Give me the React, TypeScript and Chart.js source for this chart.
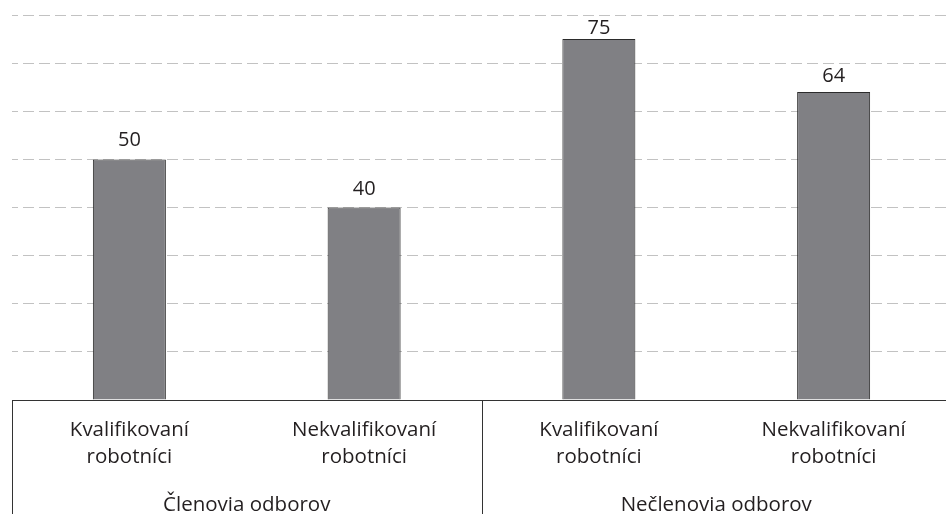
import React, { useEffect, useRef } from "react";
import { Chart, registerables } from "chart.js";

Chart.register(...registerables);

const categories: string[][] = [
  ["Kvalifikovaní", "robotníci"],
  ["Nekvalifikovaní", "robotníci"],
  ["Kvalifikovaní", "robotníci"],
  ["Nekvalifikovaní", "robotníci"],
];
const groups: string[] = ["Členovia odborov", "Nečlenovia odborov"];
const groupSizes: number[] = [2, 2];
const values: number[] = [50, 40, 75, 64];
const yTicks: number[] = [0, 10, 20, 30, 40, 50, 60, 70, 80];

const FONT = '"Open Sans", sans-serif';
const TEXT = "#231f20";
const W = 960;
const H = 530;

const labelsPlugin = {
  id: "labelsPlugin",
  afterDraw(chart: any) {
    const { ctx } = chart;
    const xs = chart.scales.x;
    const ys = chart.scales.y;
    const bottom = chart.chartArea.bottom;
    ctx.save();
    // value labels
    ctx.fillStyle = TEXT;
    ctx.font = `20px ${FONT}`;
    ctx.textAlign = "center";
    ctx.textBaseline = "alphabetic";
    const meta = chart.getDatasetMeta(0);
    const gridYs = yTicks.map((t) => ys.getPixelForValue(t));
    meta.data.forEach((bar: any, i: number) => {
      let base = bar.y - 13;
      const top = base - 14;
      const hit = gridYs.find((g) => g >= top - 6 && g <= base);
      if (hit !== undefined) base = hit + 5 + 14;
      ctx.fillText(String(values[i]), bar.x, base);
    });
    // category labels
    ctx.font = `20.5px ${FONT}`;
    categories.forEach((lines, i) => {
      const x = xs.getPixelForValue(i);
      lines.forEach((ln, j) => ctx.fillText(ln, x, bottom + 36 + j * 26.5));
    });
    // group separators & labels
    ctx.strokeStyle = "#333333";
    ctx.lineWidth = 1;
    let start = 0;
    const bounds: number[] = [xs.left];
    groups.forEach((g, gi) => {
      const end = start + groupSizes[gi];
      const left = gi === 0 ? xs.left : (xs.getPixelForValue(start - 1) + xs.getPixelForValue(start)) / 2;
      const right =
        end >= categories.length ? xs.right : (xs.getPixelForValue(end - 1) + xs.getPixelForValue(end)) / 2;
      if (gi > 0) bounds.push(left);
      ctx.fillText(g, (left + right) / 2, bottom + 111);
      start = end;
    });
    bounds.push(xs.right);
    bounds.forEach((bx) => {
      const px = Math.round(bx) + 0.5;
      ctx.beginPath();
      ctx.moveTo(px, bottom);
      ctx.lineTo(px, chart.height);
      ctx.stroke();
    });
    ctx.restore();
  },
};

export default function App() {
  const ref = useRef<HTMLCanvasElement>(null);
  useEffect(() => {
    if (!ref.current) return;
    const chart = new Chart(ref.current, {
      type: "bar",
      data: {
        labels: categories.map((c) => c.join(" ")),
        datasets: [
          {
            data: values,
            backgroundColor: "#808084",
            borderColor: "#2b2b2b",
            borderWidth: 1,
            barPercentage: 0.311,
            categoryPercentage: 1,
          },
        ],
      },
      options: {
        animation: false,
        responsive: false,
        maintainAspectRatio: false,
        devicePixelRatio: 1,
        layout: { padding: { left: 12, right: 9, top: 15, bottom: 0 } },
        plugins: { legend: { display: false }, tooltip: { enabled: false } },
        scales: {
          x: {
            type: "category",
            grid: { display: false },
            ticks: { display: false },
            border: { display: true, color: "#333333", width: 1 },
            afterFit: (s: any) => {
              s.height = 130;
            },
          },
          y: {
            min: 0,
            max: 80,
            afterBuildTicks: (s: any) => {
              s.ticks = yTicks.map((v) => ({ value: v }));
            },
            ticks: { display: false },
            grid: { color: "#c2c2c2", lineWidth: 1, drawTicks: false, tickLength: 0 },
            border: { display: false, dash: [11, 5], dashOffset: 5 },
            afterFit: (s: any) => {
              s.width = 0;
            },
          },
        },
      },
      plugins: [labelsPlugin],
    });
    return () => chart.destroy();
  }, []);
  return (
    <div style={{ position: "fixed", left: 0, top: 0, width: 946, height: 514, overflow: "hidden", background: "#fff" }}>
      <canvas ref={ref} width={W} height={H} style={{ display: "block", width: W, height: H }} />
    </div>
  );
}
